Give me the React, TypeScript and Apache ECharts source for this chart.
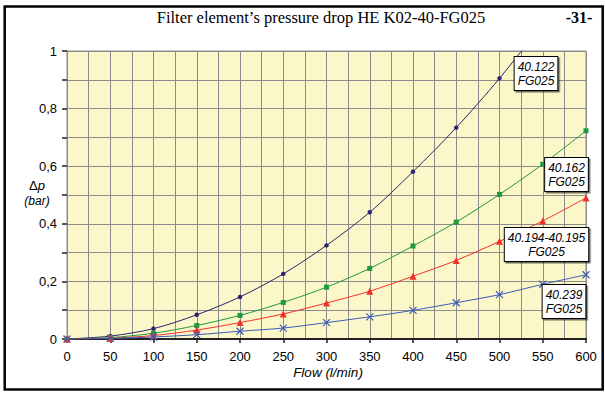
import React, { useEffect, useRef } from "react";
import * as echarts from "echarts";

const flows = [0, 50, 100, 150, 200, 250, 300, 350, 400, 450, 500, 550, 600];
const dp40122 = [0, 0.01, 0.036, 0.084, 0.146, 0.226, 0.325, 0.44, 0.581, 0.734, 0.905, 1.095, null];
const dp40162 = [0, 0.005, 0.02, 0.047, 0.082, 0.127, 0.18, 0.245, 0.323, 0.406, 0.502, 0.607, 0.723];
const dp40194 = [0, 0.003, 0.012, 0.031, 0.057, 0.087, 0.125, 0.166, 0.218, 0.273, 0.339, 0.41, 0.49];
const dp40239 = [0, 0.002, 0.007, 0.015, 0.027, 0.038, 0.057, 0.077, 0.0995, 0.126, 0.154, 0.19, 0.223];

const labels = ["40.122\nFG025", "40.162\nFG025", "40.194-40.195\nFG025", "40.239\nFG025"];
const colors = ["#2c2470", "#1f9a3e", "#f2302a", "#3a5bb8"];

const SANS = '"Liberation Sans", Arial, sans-serif';
const SERIF = '"Liberation Serif", "Times New Roman", serif';

function pairs(vals: (number | null)[], hideFrom = 99) {
  const out: any[] = [];
  vals.forEach((v, i) => {
    if (v === null) return;
    if (i >= hideFrom) out.push({ value: [flows[i], v], symbol: "none" });
    else out.push([flows[i], v]);
  });
  return out;
}

const gridColor = "#8c8c8c";

function boxText(text: string, x: number, y: number) {
  return {
    type: "text",
    x,
    y,
    z: 100,
    style: {
      text,
      font: `italic 12px ${SANS}`,
      fill: "#000",
      align: "center",
      verticalAlign: "top",
      lineHeight: 14,
      backgroundColor: "#fff",
      borderColor: "#000",
      borderWidth: 1,
      padding: [3, 3, 2, 3],
      shadowColor: "rgba(0,0,0,0.55)",
      shadowBlur: 1,
      shadowOffsetX: 1.5,
      shadowOffsetY: 1.5,
    },
  };
}

export default function App() {
  const ref = useRef<HTMLDivElement>(null);
  useEffect(() => {
    const chart = echarts.init(ref.current!, null, { renderer: "svg" });
    const option: any = {
      animation: false,
      backgroundColor: "#fff",
      grid: {
        left: 67,
        top: 51,
        right: 19,
        bottom: 55,
        show: true,
        backgroundColor: "#fbf7c9",
        borderColor: gridColor,
        borderWidth: 1,
      },
      xAxis: {
        type: "value",
        min: 0,
        max: 600,
        interval: 50,
        axisLine: { show: true, lineStyle: { color: "#222", width: 2 } },
        axisTick: { show: true, length: 4, lineStyle: { color: "#222", width: 1.5 } },
        axisLabel: { margin: 11, fontSize: 13, color: "#000", fontFamily: SANS },
        splitLine: { show: true, lineStyle: { color: gridColor, width: 1 } },
        minorTick: { show: false, splitNumber: 2 },
        minorSplitLine: { show: true, lineStyle: { color: gridColor, width: 1 } },
      },
      yAxis: {
        type: "value",
        min: 0,
        max: 1,
        interval: 0.2,
        axisLine: { show: true, lineStyle: { color: gridColor, width: 1 } },
        axisTick: { show: true, length: 5, lineStyle: { color: "#222", width: 1.5 } },
        minorTick: { show: true, splitNumber: 2, length: 5, lineStyle: { color: "#222", width: 1.5 } },
        axisLabel: {
          margin: 10,
          fontSize: 13,
          color: "#000",
          fontFamily: SANS,
          formatter: (v: number) => String(Math.round(v * 10) / 10).replace(".", ","),
        },
        splitLine: { show: true, lineStyle: { color: gridColor, width: 1 } },
        minorSplitLine: { show: true, lineStyle: { color: gridColor, width: 1 } },
      },
      series: [
        {
          type: "line",
          smooth: 0.3,
          data: pairs(dp40122, 11),
          symbol: "circle",
          symbolSize: 4.5,
          itemStyle: { color: colors[0] },
          lineStyle: { color: colors[0], width: 1 },
        },
        {
          type: "line",
          smooth: 0.3,
          data: pairs(dp40162),
          symbol: "rect",
          symbolSize: 5,
          itemStyle: { color: colors[1] },
          lineStyle: { color: colors[1], width: 1 },
        },
        {
          type: "line",
          smooth: 0.3,
          data: pairs(dp40194),
          symbol: "triangle",
          symbolSize: 7,
          itemStyle: { color: colors[2] },
          lineStyle: { color: colors[2], width: 1 },
        },
        {
          type: "line",
          smooth: 0.3,
          data: pairs(dp40239),
          symbol: "path://M0 0L10 10M10 0L0 10",
          symbolSize: 7,
          itemStyle: { color: colors[3], borderColor: colors[3], borderWidth: 1.2 },
          lineStyle: { color: colors[3], width: 1 },
        },
      ],
      graphic: [
        {
          type: "rect",
          shape: { x: 4.7, y: 6.5, width: 598, height: 383 },
          style: { fill: "none", stroke: "#000", lineWidth: 2.5 },
          z: 0,
        },
        {
          type: "text",
          x: 321,
          y: 17,
          style: { text: "Filter element\u2019s pressure drop HE K02-40-FG025", font: `16.5px ${SERIF}`, fill: "#000", align: "center", verticalAlign: "middle" },
        },
        {
          type: "text",
          x: 579,
          y: 17,
          style: { text: "-31-", font: `bold 16px ${SERIF}`, fill: "#000", align: "center", verticalAlign: "middle" },
        },
        {
          type: "text",
          x: 37,
          y: 178,
          style: {
            text: "{a|\u0394}{b|p}\n{c|(bar)}",
            align: "center",
            verticalAlign: "top",
            fill: "#000",
            rich: {
              a: { font: `13px ${SANS}`, lineHeight: 15 },
              b: { font: `italic 13px ${SANS}`, lineHeight: 15 },
              c: { font: `italic 12px ${SANS}`, lineHeight: 15 },
            },
          },
        },
        {
          type: "text",
          x: 328,
          y: 372,
          style: { text: "Flow (l/min)", font: `italic 13.5px ${SANS}`, fill: "#000", align: "center", verticalAlign: "middle" },
        },
        boxText(labels[0], 536, 57),
        boxText(labels[1], 566.5, 158),
        boxText(labels[2], 546.5, 228),
        boxText(labels[3], 564, 285),
      ],
    };
    chart.setOption(option);
    return () => chart.dispose();
  }, []);
  return <div ref={ref} style={{ position: "absolute", left: 0, top: 0, width: 605, height: 394 }} />;
}
